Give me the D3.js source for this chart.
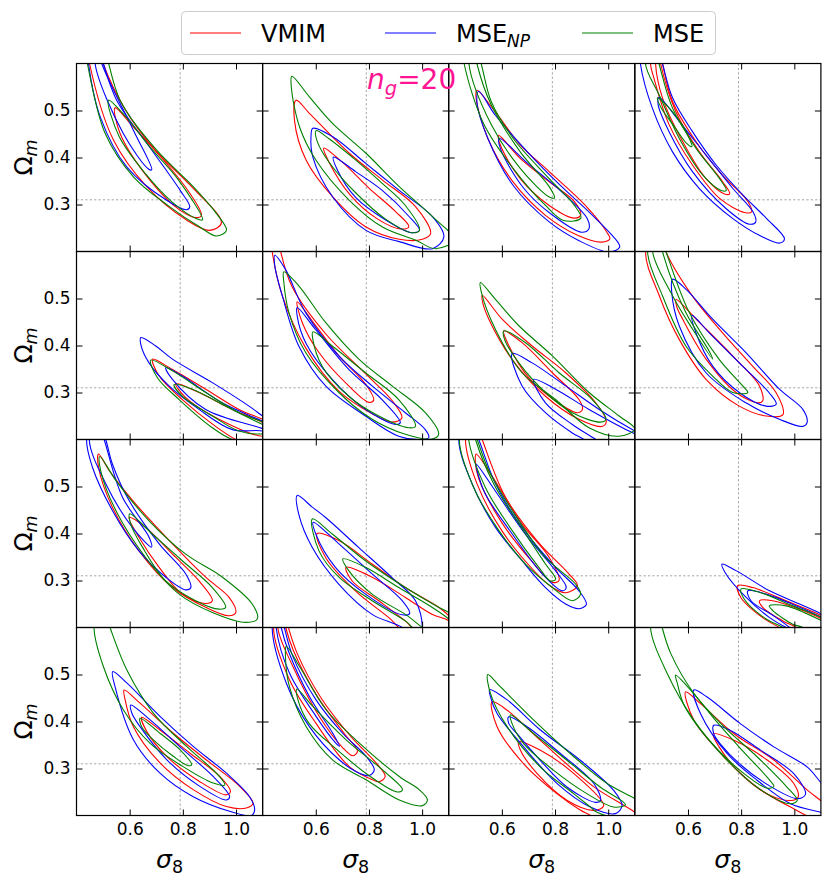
<!DOCTYPE html>
<html>
<head>
<meta charset="utf-8">
<script src="https://cdnjs.cloudflare.com/ajax/libs/d3/7.8.5/d3.min.js"></script>
<style>
  body { margin: 0; background: #fff; }
  svg text { font-family: "DejaVu Sans", sans-serif; }
</style>
</head>
<body>
<div id="chart"></div>
<script>
// axes
const xDomain = [0.4, 1.1];
const yDomain = [0.2, 0.6];
const xTicks = [0.6, 0.8, 1.0];
const yTicks = [0.3, 0.4, 0.5];
const sigma8Fid = 0.79;
const omegaFid = 0.31;

const methodNames = ['VMIM', 'MSE_NP', 'MSE'];
const methodColors = ['#ff0000', '#0000ff', '#008000'];

// contour outlines, one entry per panel (row by row),
// each entry = [95% outline, 68% outline] as flat [sigma8, Omega_m, ...] lists
const vmim = [
  [[0.47,0.66, 0.50,0.6, 0.58,0.505, 0.695,0.416, 0.833,0.338, 0.945,0.261, 0.901,0.245, 0.814,0.267, 0.664,0.338, 0.539,0.437, 0.449,0.6, 0.44,0.64],
   [0.545,0.506, 0.614,0.465, 0.739,0.387, 0.825,0.325, 0.87,0.277, 0.851,0.272, 0.789,0.288, 0.676,0.352, 0.564,0.451]],
  [[0.526,0.522, 0.576,0.494, 0.726,0.409, 0.851,0.352, 0.976,0.295, 1.032,0.238, 1.001,0.226, 0.914,0.226, 0.789,0.252, 0.664,0.316, 0.564,0.394, 0.52,0.479],
   [0.63,0.42, 0.70,0.39, 0.80,0.335, 0.90,0.285, 0.95,0.253, 0.92,0.248, 0.83,0.27, 0.73,0.32, 0.65,0.39]],
  [[0.506,0.543, 0.574,0.498, 0.669,0.427, 0.778,0.37, 0.914,0.298, 0.995,0.241, 1.006,0.227, 0.975,0.22, 0.887,0.234, 0.764,0.277, 0.642,0.348, 0.547,0.441, 0.503,0.527],
   [0.588,0.447, 0.669,0.398, 0.778,0.348, 0.873,0.306, 0.896,0.277, 0.873,0.271, 0.778,0.298, 0.669,0.355, 0.594,0.427]],
  [[0.48,0.66, 0.504,0.6, 0.542,0.519, 0.63,0.434, 0.729,0.363, 0.826,0.306, 0.839,0.284, 0.813,0.283, 0.719,0.313, 0.617,0.384, 0.529,0.47, 0.472,0.569, 0.459,0.6],
   [0.485,0.65, 0.497,0.6, 0.554,0.498, 0.643,0.412, 0.731,0.348, 0.757,0.323, 0.74,0.322, 0.668,0.355, 0.58,0.434, 0.504,0.527, 0.478,0.6]],
  [[0.686,0.371, 0.761,0.349, 0.886,0.307, 1.011,0.264, 1.1,0.243, 1.16,0.225, 1.12,0.19, 1.06,0.186, 0.999,0.2, 0.923,0.228, 0.798,0.285, 0.711,0.335],
   [0.773,0.319, 0.861,0.3, 0.986,0.264, 1.1,0.236, 1.15,0.215, 1.1,0.207, 0.936,0.243, 0.811,0.289]],
  [[0.45,0.66, 0.468,0.6, 0.511,0.525, 0.637,0.425, 0.787,0.34, 0.887,0.283, 0.924,0.246, 0.887,0.237, 0.812,0.255, 0.687,0.303, 0.562,0.395, 0.474,0.506, 0.436,0.6, 0.43,0.64],
   [0.53,0.493, 0.587,0.452, 0.687,0.378, 0.787,0.318, 0.818,0.284, 0.8,0.279, 0.724,0.314, 0.612,0.385, 0.549,0.449]],
  [[0.526,0.507, 0.601,0.456, 0.714,0.399, 0.84,0.342, 0.953,0.278, 0.993,0.239, 0.978,0.228, 0.89,0.243, 0.764,0.292, 0.639,0.37, 0.551,0.456, 0.528,0.491],
   [0.607,0.431, 0.676,0.406, 0.79,0.342, 0.89,0.285, 0.903,0.264, 0.884,0.257, 0.802,0.282, 0.702,0.331, 0.626,0.4]],
  [[0.49,0.66, 0.517,0.6, 0.617,0.505, 0.73,0.427, 0.843,0.356, 0.931,0.3, 0.957,0.253, 0.894,0.25, 0.793,0.271, 0.668,0.328, 0.567,0.413, 0.492,0.506, 0.441,0.6],
   [0.555,0.498, 0.643,0.449, 0.768,0.378, 0.869,0.314, 0.881,0.282, 0.862,0.278, 0.781,0.3, 0.668,0.371, 0.58,0.456, 0.557,0.484]],
  [[0.483,0.569, 0.523,0.534, 0.61,0.471, 0.761,0.378, 0.886,0.307, 0.974,0.264, 0.999,0.232, 0.974,0.225, 0.886,0.243, 0.761,0.285, 0.635,0.363, 0.535,0.456, 0.483,0.541],
   [0.598,0.434, 0.66,0.413, 0.761,0.356, 0.861,0.299, 0.911,0.257, 0.886,0.251, 0.798,0.271, 0.711,0.328, 0.635,0.392]],
  [[0.605,0.4, 0.687,0.385, 0.812,0.335, 0.937,0.285, 1.062,0.243, 1.1,0.225, 1.13,0.2, 1.044,0.19, 0.937,0.19, 0.875,0.221, 0.749,0.278, 0.637,0.349],
   [0.714,0.328, 0.812,0.307, 0.937,0.264, 1.037,0.228, 1.1,0.214, 1.12,0.195, 0.987,0.19, 0.937,0.214, 0.837,0.257, 0.737,0.299]],
  [[0.49,0.66, 0.526,0.6, 0.614,0.477, 0.739,0.38, 0.852,0.314, 0.884,0.289, 0.84,0.274, 0.79,0.285, 0.714,0.325, 0.601,0.405, 0.507,0.505, 0.463,0.6],
   [0.503,0.569, 0.563,0.522, 0.676,0.42, 0.777,0.35, 0.815,0.3, 0.79,0.296, 0.714,0.34, 0.601,0.422, 0.513,0.517, 0.5,0.555]],
  [[0.787,0.289, 0.843,0.285, 0.969,0.257, 1.104,0.225, 1.15,0.21, 1.0,0.18, 0.944,0.2, 0.881,0.221, 0.799,0.264],
   [0.869,0.257, 0.919,0.257, 1.02,0.239, 1.104,0.218, 1.15,0.2, 1.05,0.18, 1.007,0.2, 0.957,0.214, 0.881,0.243]],
  [[0.579,0.467, 0.639,0.439, 0.764,0.375, 0.889,0.318, 1.014,0.262, 1.064,0.226, 1.039,0.216, 0.964,0.219, 0.839,0.255, 0.714,0.312, 0.614,0.389, 0.583,0.446],
   [0.645,0.409, 0.714,0.382, 0.826,0.333, 0.939,0.283, 0.979,0.251, 0.964,0.244, 0.864,0.272, 0.739,0.326, 0.664,0.379]],
  [[0.47,0.66, 0.497,0.6, 0.53,0.545, 0.62,0.45, 0.735,0.366, 0.83,0.31, 0.861,0.283, 0.839,0.272, 0.814,0.276, 0.726,0.304, 0.601,0.396, 0.501,0.489, 0.441,0.6],
   [0.47,0.65, 0.487,0.6, 0.515,0.552, 0.604,0.455, 0.71,0.372, 0.757,0.337, 0.74,0.327, 0.70,0.345, 0.614,0.41, 0.514,0.517, 0.457,0.6]],
  [[0.563,0.442, 0.62,0.424, 0.745,0.36, 0.871,0.296, 0.946,0.261, 1.1,0.207, 1.14,0.19, 0.95,0.185, 0.933,0.2, 0.896,0.211, 0.808,0.246, 0.682,0.31, 0.582,0.389],
   [0.663,0.357, 0.745,0.339, 0.871,0.289, 0.983,0.221, 0.946,0.211, 0.846,0.232, 0.733,0.289, 0.67,0.339]],
  [[0.591,0.463, 0.647,0.438, 0.773,0.374, 0.923,0.318, 1.049,0.254, 1.099,0.232, 1.16,0.205, 1.1,0.19, 0.986,0.218, 0.86,0.26, 0.735,0.325, 0.622,0.403],
   [0.695,0.374, 0.773,0.36, 0.898,0.318, 0.998,0.268, 1.014,0.239, 0.986,0.232, 0.898,0.246, 0.798,0.289, 0.717,0.346]]
];

const mseNp = [
  [[0.47,0.66, 0.501,0.6, 0.551,0.522, 0.683,0.416, 0.79,0.33, 0.826,0.295, 0.814,0.289, 0.739,0.309, 0.589,0.38, 0.489,0.487, 0.445,0.6, 0.44,0.64],
   [0.48,0.64, 0.495,0.6, 0.614,0.458, 0.683,0.374, 0.672,0.375, 0.576,0.451, 0.47,0.6]],
  [[0.589,0.462, 0.664,0.444, 0.789,0.387, 0.914,0.33, 1.039,0.274, 1.082,0.231, 1.039,0.206, 0.914,0.221, 0.789,0.245, 0.664,0.316, 0.589,0.401, 0.582,0.444],
   [0.666,0.401, 0.75,0.37, 0.85,0.33, 0.95,0.275, 0.99,0.245, 0.96,0.24, 0.86,0.268, 0.75,0.315, 0.68,0.375]],
  [[0.513,0.541, 0.574,0.491, 0.696,0.412, 0.819,0.341, 0.941,0.277, 1.036,0.22, 1.043,0.209, 1.002,0.199, 0.887,0.224, 0.778,0.263, 0.642,0.341, 0.547,0.441, 0.506,0.519],
   [0.59,0.441, 0.696,0.388, 0.819,0.33, 0.921,0.27, 0.927,0.248, 0.9,0.241, 0.791,0.277, 0.683,0.334, 0.594,0.42]],
  [[0.47,0.67, 0.504,0.6, 0.542,0.527, 0.617,0.455, 0.706,0.384, 0.807,0.32, 0.896,0.27, 0.963,0.227, 0.946,0.218, 0.87,0.234, 0.769,0.27, 0.643,0.334, 0.542,0.412, 0.466,0.505, 0.421,0.6, 0.42,0.65],
   [0.491,0.528, 0.567,0.477, 0.668,0.405, 0.769,0.334, 0.845,0.284, 0.855,0.263, 0.832,0.258, 0.744,0.291, 0.617,0.37, 0.529,0.455, 0.488,0.512]],
  [[0.642,0.417, 0.698,0.399, 0.761,0.371, 0.911,0.321, 1.049,0.271, 1.1,0.25, 1.14,0.235, 1.14,0.207, 1.1,0.218, 0.986,0.221, 0.861,0.264, 0.748,0.314, 0.673,0.363, 0.642,0.402],
   [0.736,0.353, 0.798,0.335, 0.948,0.278, 1.1,0.239, 1.14,0.228, 1.13,0.215, 1.1,0.223, 0.886,0.264, 0.761,0.328]],
  [[0.446,0.592, 0.486,0.562, 0.562,0.47, 0.687,0.378, 0.812,0.314, 0.937,0.257, 1.012,0.221, 1.025,0.204, 1.0,0.2, 0.912,0.207, 0.787,0.25, 0.637,0.314, 0.536,0.399, 0.474,0.506, 0.446,0.569],
   [0.53,0.481, 0.599,0.434, 0.724,0.349, 0.849,0.285, 0.918,0.236, 0.9,0.232, 0.787,0.264, 0.662,0.328, 0.562,0.406, 0.53,0.463]],
  [[0.639,0.383, 0.714,0.363, 0.84,0.314, 0.966,0.264, 1.1,0.218, 1.16,0.2, 1.1,0.17, 0.94,0.186, 0.909,0.2, 0.865,0.214, 0.764,0.257, 0.676,0.314],
   [0.72,0.328, 0.802,0.307, 0.928,0.264, 1.1,0.212, 1.15,0.2, 1.0,0.18, 0.953,0.2, 0.865,0.232, 0.764,0.278]],
  [[0.542,0.541, 0.592,0.52, 0.693,0.456, 0.818,0.385, 0.944,0.307, 1.032,0.264, 1.048,0.236, 1.032,0.228, 0.944,0.243, 0.818,0.278, 0.668,0.342, 0.567,0.442, 0.539,0.513],
   [0.615,0.464, 0.68,0.427, 0.793,0.363, 0.906,0.299, 0.932,0.275, 0.894,0.271, 0.793,0.3, 0.693,0.356, 0.63,0.427]],
  [[0.47,0.66, 0.51,0.6, 0.535,0.548, 0.598,0.47, 0.711,0.378, 0.811,0.314, 0.83,0.285, 0.811,0.28, 0.736,0.307, 0.635,0.363, 0.535,0.449, 0.46,0.541, 0.438,0.6],
   [0.475,0.65, 0.504,0.6, 0.573,0.477, 0.673,0.392, 0.682,0.371, 0.61,0.413, 0.51,0.506, 0.448,0.6]],
  [[0.53,0.481, 0.587,0.456, 0.637,0.434, 0.762,0.37, 0.887,0.306, 0.975,0.257, 1.0,0.2, 0.98,0.17, 0.925,0.2, 0.812,0.228, 0.687,0.292, 0.587,0.37, 0.536,0.441],
   [0.59,0.424, 0.687,0.378, 0.812,0.314, 0.925,0.257, 0.953,0.23, 0.925,0.227, 0.787,0.271, 0.674,0.328, 0.6,0.399]],
  [[0.47,0.66, 0.513,0.6, 0.576,0.506, 0.676,0.413, 0.802,0.328, 0.89,0.278, 0.918,0.249, 0.89,0.24, 0.84,0.25, 0.764,0.285, 0.676,0.342, 0.576,0.413, 0.488,0.506, 0.438,0.6],
   [0.503,0.548, 0.576,0.49, 0.689,0.398, 0.80,0.322, 0.842,0.285, 0.827,0.278, 0.752,0.314, 0.639,0.399, 0.538,0.484, 0.507,0.534]],
  [[0.728,0.335, 0.781,0.321, 0.907,0.278, 1.02,0.25, 1.104,0.228, 1.15,0.21, 1.08,0.17, 0.969,0.2, 0.907,0.221, 0.819,0.264, 0.743,0.314],
   [0.825,0.278, 0.894,0.271, 1.02,0.243, 1.104,0.221, 1.15,0.205, 1.02,0.18, 0.982,0.2, 0.919,0.226, 0.837,0.257]],
  [[0.536,0.506, 0.589,0.482, 0.714,0.411, 0.839,0.347, 0.964,0.29, 1.051,0.24, 1.07,0.212, 1.058,0.2, 0.976,0.209, 0.839,0.24, 0.714,0.29, 0.614,0.361, 0.545,0.474],
   [0.604,0.435, 0.676,0.404, 0.801,0.34, 0.914,0.283, 0.976,0.24, 0.964,0.233, 0.864,0.262, 0.739,0.319, 0.639,0.389, 0.608,0.418]],
  [[0.46,0.66, 0.482,0.6, 0.514,0.538, 0.601,0.446, 0.701,0.375, 0.789,0.326, 0.82,0.297, 0.801,0.285, 0.764,0.29, 0.689,0.318, 0.576,0.389, 0.489,0.482, 0.436,0.6],
   [0.455,0.65, 0.47,0.6, 0.497,0.55, 0.576,0.453, 0.664,0.375, 0.689,0.347, 0.672,0.356, 0.601,0.411, 0.501,0.503, 0.451,0.6]],
  [[0.554,0.468, 0.62,0.446, 0.745,0.382, 0.896,0.317, 1.021,0.253, 1.052,0.221, 1.027,0.204, 0.933,0.218, 0.808,0.268, 0.682,0.346, 0.582,0.417, 0.557,0.453],
   [0.626,0.41, 0.695,0.389, 0.82,0.332, 0.946,0.268, 0.971,0.232, 0.952,0.228, 0.846,0.26, 0.745,0.317, 0.657,0.374, 0.626,0.396]],
  [[0.622,0.467, 0.672,0.452, 0.798,0.395, 0.923,0.346, 1.049,0.303, 1.1,0.27, 1.15,0.24, 1.15,0.2, 1.099,0.207, 0.986,0.225, 0.86,0.275, 0.747,0.332, 0.647,0.417],
   [0.697,0.392, 0.76,0.381, 0.873,0.339, 0.998,0.289, 1.042,0.245, 1.011,0.236, 0.91,0.262, 0.80,0.307, 0.722,0.352, 0.697,0.374]]
];

const mse = [
  [[0.46,0.68, 0.50,0.64, 0.564,0.522, 0.701,0.416, 0.839,0.338, 0.926,0.281, 0.964,0.245, 0.926,0.233, 0.864,0.252, 0.751,0.295, 0.614,0.359, 0.508,0.451, 0.441,0.6, 0.43,0.64],
   [0.52,0.522, 0.58,0.49, 0.68,0.42, 0.78,0.355, 0.874,0.267, 0.85,0.27, 0.76,0.305, 0.66,0.365, 0.56,0.445]],
  [[0.51,0.573, 0.576,0.529, 0.664,0.472, 0.789,0.409, 0.914,0.338, 1.039,0.274, 1.12,0.225, 1.051,0.206, 0.976,0.224, 0.851,0.252, 0.726,0.309, 0.601,0.394, 0.539,0.465, 0.508,0.55],
   [0.601,0.457, 0.65,0.44, 0.743,0.398, 0.85,0.345, 0.934,0.3, 0.99,0.245, 0.96,0.24, 0.86,0.27, 0.75,0.325, 0.65,0.39, 0.605,0.435]],
  [[0.48,0.68, 0.522,0.6, 0.56,0.519, 0.642,0.441, 0.778,0.355, 0.873,0.298, 0.897,0.271, 0.832,0.266, 0.764,0.298, 0.642,0.377, 0.533,0.47, 0.458,0.6, 0.45,0.65],
   [0.49,0.66, 0.506,0.6, 0.56,0.512, 0.669,0.412, 0.778,0.338, 0.798,0.314, 0.778,0.316, 0.669,0.377, 0.56,0.47, 0.476,0.6]],
  [[0.465,0.66, 0.491,0.6, 0.542,0.505, 0.63,0.42, 0.719,0.355, 0.744,0.33, 0.725,0.33, 0.655,0.363, 0.567,0.441, 0.491,0.534, 0.44,0.6],
   [0.485,0.527, 0.535,0.502, 0.585,0.463, 0.615,0.423, 0.595,0.43, 0.55,0.465, 0.5,0.505]],
  [[0.679,0.369, 0.761,0.346, 0.886,0.3, 1.011,0.257, 1.1,0.237, 1.15,0.22, 1.1,0.19, 0.986,0.2, 0.911,0.225, 0.786,0.285, 0.705,0.331],
   [0.767,0.317, 0.836,0.307, 0.961,0.271, 1.1,0.232, 1.15,0.22, 1.1,0.212, 1.011,0.218, 0.911,0.25, 0.798,0.292]],
  [[0.48,0.557, 0.536,0.527, 0.637,0.449, 0.762,0.371, 0.887,0.314, 1.012,0.257, 1.062,0.211, 1.037,0.201, 0.937,0.211, 0.812,0.243, 0.687,0.3, 0.562,0.385, 0.499,0.47, 0.48,0.534],
   [0.589,0.429, 0.662,0.399, 0.787,0.342, 0.912,0.285, 0.975,0.228, 0.95,0.225, 0.837,0.25, 0.724,0.292, 0.624,0.356, 0.589,0.413]],
  [[0.519,0.534, 0.576,0.498, 0.664,0.442, 0.79,0.378, 0.928,0.3, 1.041,0.25, 1.1,0.222, 1.04,0.207, 0.928,0.225, 0.802,0.285, 0.676,0.342, 0.576,0.434, 0.523,0.513],
   [0.607,0.431, 0.689,0.406, 0.815,0.342, 0.94,0.285, 0.991,0.243, 0.972,0.237, 0.865,0.257, 0.764,0.3, 0.664,0.363, 0.61,0.413]],
  [[0.48,0.66, 0.517,0.6, 0.605,0.47, 0.718,0.37, 0.806,0.314, 0.825,0.3, 0.768,0.3, 0.693,0.335, 0.592,0.399, 0.504,0.506, 0.448,0.6],
   [0.485,0.66, 0.504,0.6, 0.592,0.47, 0.68,0.388, 0.693,0.371, 0.617,0.435, 0.542,0.506, 0.467,0.6]],
  [[0.488,0.564, 0.548,0.513, 0.673,0.427, 0.811,0.356, 0.949,0.307, 1.061,0.25, 1.08,0.218, 1.036,0.211, 0.911,0.232, 0.786,0.271, 0.66,0.349, 0.548,0.449, 0.491,0.534],
   [0.6,0.442, 0.685,0.399, 0.798,0.342, 0.911,0.285, 0.961,0.243, 0.936,0.239, 0.848,0.257, 0.736,0.299, 0.648,0.371, 0.604,0.42]],
  [[0.587,0.431, 0.662,0.399, 0.787,0.342, 0.937,0.285, 1.062,0.243, 1.1,0.232, 1.15,0.215, 1.1,0.185, 0.987,0.19, 0.937,0.214, 0.812,0.257, 0.687,0.307, 0.612,0.363],
   [0.702,0.346, 0.787,0.328, 0.912,0.285, 1.037,0.243, 1.1,0.218, 1.13,0.2, 1.037,0.19, 0.937,0.228, 0.812,0.271, 0.724,0.321]],
  [[0.47,0.66, 0.507,0.6, 0.551,0.534, 0.639,0.449, 0.764,0.349, 0.878,0.292, 0.896,0.271, 0.865,0.257, 0.79,0.285, 0.689,0.335, 0.589,0.406, 0.494,0.498, 0.44,0.6],
   [0.48,0.66, 0.501,0.6, 0.57,0.505, 0.676,0.41, 0.764,0.335, 0.802,0.303, 0.783,0.299, 0.739,0.328, 0.639,0.406, 0.538,0.498, 0.475,0.6]],
  [[0.8,0.282, 0.868,0.275, 0.994,0.246, 1.104,0.221, 1.15,0.205, 1.0,0.18, 0.957,0.2, 0.894,0.218, 0.812,0.26],
   [0.906,0.246, 0.969,0.246, 1.104,0.214, 1.15,0.2, 1.08,0.18, 1.032,0.2, 0.994,0.207, 0.919,0.236]],
  [[0.49,0.66, 0.526,0.6, 0.589,0.51, 0.689,0.418, 0.814,0.347, 0.926,0.29, 0.958,0.265, 0.914,0.269, 0.801,0.304, 0.676,0.354, 0.576,0.425, 0.501,0.517, 0.466,0.6],
   [0.639,0.407, 0.714,0.375, 0.789,0.34, 0.833,0.308, 0.82,0.306, 0.764,0.326, 0.689,0.361, 0.645,0.389]],
  [[0.489,0.56, 0.539,0.517, 0.639,0.425, 0.764,0.354, 0.914,0.283, 0.989,0.255, 1.02,0.233, 1.001,0.221, 0.914,0.233, 0.789,0.276, 0.664,0.318, 0.564,0.389, 0.501,0.474, 0.486,0.538],
   [0.529,0.469, 0.589,0.432, 0.714,0.361, 0.851,0.297, 0.926,0.255, 0.907,0.25, 0.80,0.285, 0.68,0.34, 0.576,0.395, 0.533,0.446]],
  [[0.547,0.5, 0.594,0.474, 0.72,0.403, 0.871,0.325, 0.996,0.268, 1.1,0.236, 1.16,0.215, 1.1,0.19, 0.958,0.207, 0.933,0.218, 0.871,0.246, 0.745,0.303, 0.62,0.389, 0.557,0.46],
   [0.632,0.414, 0.72,0.374, 0.846,0.317, 0.971,0.26, 1.065,0.223, 1.021,0.218, 0.921,0.246, 0.795,0.296, 0.682,0.353, 0.638,0.396]],
  [[0.48,0.66, 0.503,0.6, 0.535,0.545, 0.622,0.46, 0.735,0.389, 0.86,0.325, 0.973,0.26, 1.011,0.232, 0.985,0.225, 0.86,0.26, 0.735,0.325, 0.622,0.403, 0.522,0.502, 0.459,0.6],
   [0.553,0.499, 0.61,0.467, 0.71,0.398, 0.81,0.335, 0.90,0.28, 0.923,0.262, 0.898,0.258, 0.798,0.295, 0.672,0.365, 0.585,0.435, 0.56,0.481]]
];

const methodContours = [vmim, mseNp, mse];

// layout
const width = 831, height = 886;
const gridLeft = 76.5, gridTop = 63.5;
const pw = 186.1, ph = 188;
const nRows = 4, nCols = 4;

const svg = d3.select('#chart')
  .append('svg')
  .attr('width', width)
  .attr('height', height);

const x = d3.scaleLinear().domain(xDomain).range([0, pw]);
const y = d3.scaleLinear().domain(yDomain).range([ph, 0]);

const toPairs = a => d3.range(0, a.length, 2).map(i => [a[i], a[i + 1]]);
const outline = d3.line()
  .x(d => x(d[0]))
  .y(d => y(d[1]))
  .curve(d3.curveCatmullRomClosed.alpha(0.5));

d3.range(nRows * nCols).forEach(p => {
  const r = Math.floor(p / nCols), c = p % nCols;
  const g = svg.append('g')
    .attr('transform', `translate(${gridLeft + c * pw},${gridTop + r * ph})`);

  g.append('clipPath').attr('id', `clip-${p}`)
    .append('rect').attr('width', pw).attr('height', ph);

  const plot = g.append('g').attr('clip-path', `url(#clip-${p})`);

  // fiducial cross
  plot.append('line')
    .attr('x1', x(sigma8Fid)).attr('x2', x(sigma8Fid))
    .attr('y1', 0).attr('y2', ph);
  plot.append('line')
    .attr('x1', 0).attr('x2', pw)
    .attr('y1', y(omegaFid)).attr('y2', y(omegaFid));
  plot.selectAll('line')
    .attr('stroke', '#999')
    .attr('stroke-width', 0.9)
    .attr('stroke-dasharray', '2.2,2.2');

  // contours
  methodContours.forEach((set, m) => {
    plot.selectAll(null)
      .data(set[p])
      .enter()
      .append('path')
      .attr('d', d => outline(toPairs(d)))
      .attr('fill', 'none')
      .attr('stroke', methodColors[m])
      .attr('stroke-width', 1.1);
  });

  // inward ticks on all four sides
  const noLabel = () => '';
  const fmt = d3.format('.1f');
  g.append('g').attr('transform', `translate(0,${ph})`)
    .call(d3.axisBottom(x).tickValues(xTicks).tickSize(-6).tickPadding(7)
      .tickFormat(r === nRows - 1 ? fmt : noLabel));
  g.append('g')
    .call(d3.axisTop(x).tickValues(xTicks).tickSize(-6).tickFormat(noLabel));
  g.append('g')
    .call(d3.axisLeft(y).tickValues(yTicks).tickSize(-6).tickPadding(6)
      .tickFormat(c === 0 ? fmt : noLabel));
  g.append('g').attr('transform', `translate(${pw},0)`)
    .call(d3.axisRight(y).tickValues(yTicks).tickSize(-6).tickFormat(noLabel));

  g.selectAll('.domain').remove();
  g.selectAll('.tick line').attr('stroke', '#000').attr('stroke-width', 1);
  g.selectAll('.tick text')
    .attr('font-family', '"DejaVu Sans", sans-serif')
    .attr('font-size', 17)
    .attr('fill', '#000');

  g.append('rect')
    .attr('width', pw).attr('height', ph)
    .attr('fill', 'none')
    .attr('stroke', '#000')
    .attr('stroke-width', 1.2);
});

// axis labels
d3.range(nCols).forEach(c => {
  const t = svg.append('text')
    .attr('x', gridLeft + c * pw + pw / 2)
    .attr('y', 868)
    .attr('text-anchor', 'middle')
    .attr('font-size', 25);
  t.append('tspan').attr('font-style', 'italic').text('σ');
  t.append('tspan').attr('font-size', 17.5).attr('dy', 5).text('8');
});

d3.range(nRows).forEach(r => {
  const t = svg.append('text')
    .attr('transform', `translate(32,${gridTop + r * ph + ph / 2}) rotate(-90)`)
    .attr('text-anchor', 'middle')
    .attr('font-size', 25);
  t.append('tspan').text('Ω');
  t.append('tspan').attr('font-size', 17.5).attr('font-style', 'italic').attr('dy', 5).text('m');
});

// n_g annotation
const ng = svg.append('text')
  .attr('x', 367).attr('y', 89)
  .attr('font-size', 28)
  .attr('fill', '#ff1493');
ng.append('tspan').attr('font-style', 'italic').text('n');
ng.append('tspan').attr('font-style', 'italic').attr('font-size', 19.5).attr('dy', 6).text('g');
ng.append('tspan').attr('dy', -6).text('=20');

// legend
const legendX = [190, 385, 582];
const legend = svg.append('g');
legend.append('rect')
  .attr('x', 181.5).attr('y', 11.5)
  .attr('width', 534).attr('height', 43)
  .attr('rx', 4)
  .attr('fill', '#fff')
  .attr('stroke', '#cccccc');

methodNames.forEach((name, i) => {
  legend.append('line')
    .attr('x1', legendX[i]).attr('x2', legendX[i] + 51)
    .attr('y1', 33).attr('y2', 33)
    .attr('stroke', methodColors[i])
    .attr('stroke-width', 1.1);
  const t = legend.append('text')
    .attr('x', legendX[i] + 71)
    .attr('y', 42)
    .attr('font-size', 24);
  const parts = name.split('_');
  t.append('tspan').text(parts[0]);
  if (parts[1]) {
    t.append('tspan').attr('font-style', 'italic').attr('font-size', 17).attr('dy', 5).text(parts[1]);
  }
});
</script>
</body>
</html>
